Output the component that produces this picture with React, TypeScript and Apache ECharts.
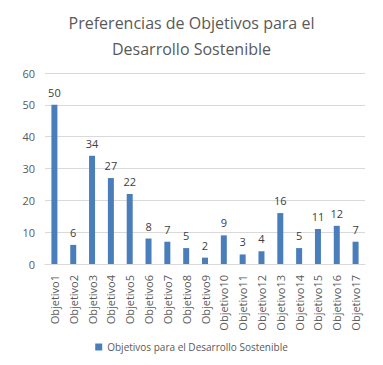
import React, { useEffect, useRef } from "react";
import * as echarts from "echarts";

const categories = [
  "Objetivo1", "Objetivo2", "Objetivo3", "Objetivo4", "Objetivo5", "Objetivo6",
  "Objetivo7", "Objetivo8", "Objetivo9", "Objetivo10", "Objetivo11", "Objetivo12",
  "Objetivo13", "Objetivo14", "Objetivo15", "Objetivo16", "Objetivo17",
];
const values = [50, 6, 34, 27, 22, 8, 7, 5, 2, 9, 3, 4, 16, 5, 11, 12, 7];
const seriesName = "Objetivos para el Desarrollo Sostenible";
const titleText = "Preferencias de Objetivos para el\nDesarrollo Sostenible";

export default function App() {
  const ref = useRef<HTMLDivElement>(null);
  useEffect(() => {
    document.body.style.margin = "0";
    if (!ref.current) return;
    const chart = echarts.init(ref.current, undefined, { renderer: "svg" });
    const font = "'Open Sans', 'Noto Sans', sans-serif";
    chart.setOption({
      animation: false,
      textStyle: { fontFamily: font },
      title: {
        text: titleText,
        left: "center",
        top: 5,
        textStyle: {
          fontFamily: font,
          fontSize: 16,
          fontWeight: "normal",
          color: "#595959",
          lineHeight: 26,
        },
      },
      legend: {
        bottom: 8,
        left: "center",
        itemWidth: 7,
        itemHeight: 7,
        icon: "rect",
        itemGap: 4,
        textStyle: { fontFamily: font, fontSize: 10, color: "#595959" },
        data: [seriesName],
      },
      grid: { left: 45, right: 18, top: 73, bottom: 101, containLabel: false },
      xAxis: {
        type: "category",
        data: categories,
        axisLine: { show: true, lineStyle: { color: "#d9d9d9" } },
        axisTick: { show: false },
        axisLabel: {
          rotate: 90,
          interval: 0,
          fontSize: 11,
          color: "#595959",
          margin: 11,
          fontFamily: font,
        },
      },
      yAxis: {
        type: "value",
        min: 0,
        max: 60,
        interval: 10,
        axisLine: { show: false },
        axisTick: { show: false },
        splitLine: { lineStyle: { color: "#d9d9d9" } },
        axisLabel: { fontSize: 11, color: "#595959", margin: 10, fontFamily: font },
      },
      series: [
        {
          name: seriesName,
          type: "bar",
          data: values,
          barWidth: 6,
          itemStyle: { color: "#4A7EBB" },
          label: {
            show: true,
            position: "top",
            distance: 7,
            fontSize: 11,
            color: "#404040",
            fontFamily: font,
          },
        },
      ],
    });
    return () => chart.dispose();
  }, []);
  return <div ref={ref} style={{ width: 383, height: 365 }} />;
}
